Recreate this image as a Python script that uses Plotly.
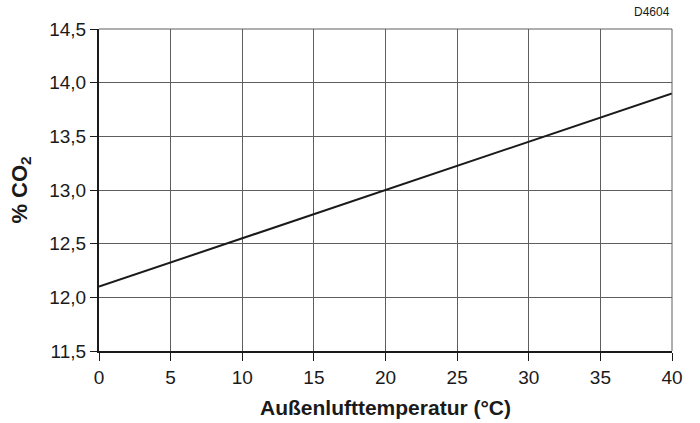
import plotly.graph_objects as go

temp_c = [0, 40]
co2_pct = [12.1, 13.9]
x_ticks = [0, 5, 10, 15, 20, 25, 30, 35, 40]
y_ticks = [11.5, 12.0, 12.5, 13.0, 13.5, 14.0, 14.5]
y_tick_labels = ["11,5", "12,0", "12,5", "13,0", "13,5", "14,0", "14,5"]

fig = go.Figure()
fig.add_trace(go.Scatter(x=temp_c, y=co2_pct, mode="lines",
                         line=dict(color="#1a1a1a", width=2), showlegend=False,
                         hoverinfo="skip"))

font_family = "Liberation Sans, Arial, sans-serif"
fig.update_layout(
    template="none",
    width=700, height=423,
    margin=dict(l=99, r=28, t=29, b=72, autoexpand=False),
    paper_bgcolor="white", plot_bgcolor="white",
    font=dict(family=font_family, color="#1a1a1a", size=19),
    xaxis=dict(range=[0, 40], tickvals=x_ticks, ticks="outside", ticklen=8,
               tickcolor="#1a1a1a", tickwidth=1, automargin=False,
               showgrid=True, gridcolor="#5e5e5e", gridwidth=1,
               showline=True, linecolor="#1a1a1a", linewidth=2,
               mirror=False, zeroline=False,
               tickfont=dict(size=19),
               title=dict(text="<b>Außenlufttemperatur (°C)</b>", font=dict(size=21), standoff=14)),
    yaxis=dict(range=[11.5, 14.5], tickvals=y_ticks, ticktext=y_tick_labels,
               ticks="outside", ticklen=7, tickcolor="#1a1a1a", tickwidth=1,
               automargin=False,
               showgrid=True, gridcolor="#5e5e5e", gridwidth=1,
               showline=True, linecolor="#1a1a1a", linewidth=2,
               zeroline=False, tickfont=dict(size=19),
               title=dict(text="<b>% CO<sub>2</sub></b>", font=dict(size=22), standoff=16)),
    shapes=[
        dict(type="line", xref="paper", yref="paper", x0=0, x1=1, y0=1, y1=1,
             line=dict(color="#5e5e5e", width=1)),
        dict(type="line", xref="paper", yref="paper", x0=1, x1=1, y0=0, y1=1,
             line=dict(color="#5e5e5e", width=1)),
    ],
    annotations=[
        dict(text="D4604", xref="paper", yref="paper", x=1.0, y=1.0,
             xanchor="right", yanchor="bottom", yshift=8, showarrow=False,
             font=dict(size=12, family=font_family, color="#1a1a1a")),
    ],
)

fig.write_html("out.html", config={"displayModeBar": False},
               post_script="document.body.style.margin='0';")
